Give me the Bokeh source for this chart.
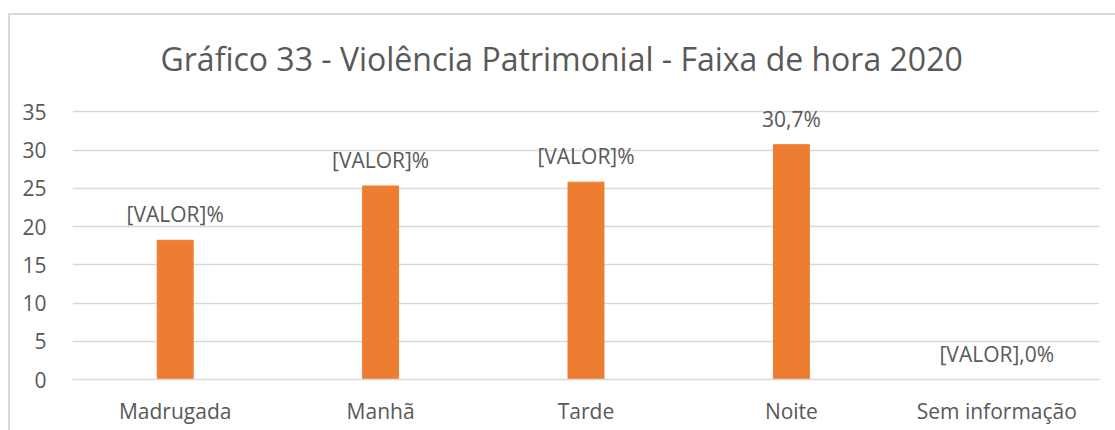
from bokeh.plotting import figure
from bokeh.models import Range1d, FixedTicker, ColumnDataSource
from bokeh.embed import file_html
from bokeh.resources import INLINE
from bokeh.core.properties import value

categories = ["Madrugada", "Manhã", "Tarde", "Noite", "Sem informação"]
values = [18.2, 25.3, 25.8, 30.7, 0.0]
labels = ["[VALOR]%", "[VALOR]%", "[VALOR]%", "30,7%", "[VALOR],0%"]
y_ticks = [0, 5, 10, 15, 20, 25, 30, 35]
title_text = "Gráfico 33 - Violência Patrimonial - Faixa de hora 2020"

FONT = "Open Sans"
TXT = "#595959"
GRID = "#d9d9d9"
BAR = "#ED7D31"

src = ColumnDataSource(dict(cat=categories, val=values, lab=labels))

p = figure(x_range=categories, y_range=Range1d(0, 37),
           width=1107, height=417, output_backend="svg", toolbar_location=None,
           min_border_left=62, min_border_right=18, min_border_top=81,
           min_border_bottom=53, margin=(13, 0, 0, 8),
           styles={"border-top": "2px solid #d9d9d9", "border-left": "2px solid #d9d9d9"})

p.title.text = title_text
p.title.align = "left"
p.title.offset = 88
p.title.standoff = 34
p.title.text_font = FONT
p.title.text_font_size = "32px"
p.title.text_font_style = "normal"
p.title.text_color = TXT

p.vbar(x="cat", top="val", width=0.175, color=BAR, source=src)
p.text(x="cat", y="val", text="lab", source=src, text_align="center",
       text_baseline="middle", y_offset=-26, text_font=value(FONT),
       text_font_size="21px", text_color=TXT)

p.outline_line_color = None
p.xgrid.grid_line_color = None
p.ygrid.grid_line_color = GRID
p.ygrid.grid_line_width = 1.5
p.yaxis.ticker = FixedTicker(ticks=y_ticks)
for ax in (p.xaxis, p.yaxis):
    ax.major_tick_line_color = None
    ax.minor_tick_line_color = None
    ax.major_label_text_font = FONT
    ax.major_label_text_font_size = "21px"
    ax.major_label_text_color = TXT
p.yaxis.axis_line_color = None
p.xaxis.axis_line_color = GRID
p.xaxis.axis_line_width = 1.5
p.yaxis.major_label_standoff = 20
p.xaxis.major_label_standoff = 11

open("out.html", "w").write(file_html(p, INLINE))
